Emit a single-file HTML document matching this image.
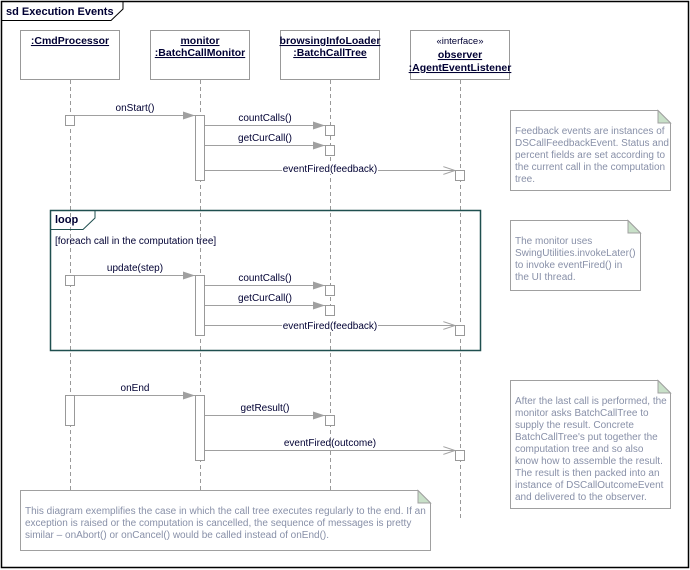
<!DOCTYPE html>
<html><head><meta charset="utf-8"><style>
html,body{margin:0;padding:0;background:#fff;}
svg{display:block;}
.h{font-family:"Liberation Sans",sans-serif;font-size:10.5px;font-weight:bold;fill:#000033;text-decoration:underline;}
.m{font-family:"Liberation Sans",sans-serif;font-size:10px;fill:#000033;}
.n{font-family:"Liberation Sans",sans-serif;font-size:10px;fill:#8890a8;}
</style></head><body>
<svg width="690" height="570" viewBox="0 0 690 570" xmlns="http://www.w3.org/2000/svg">
<defs>
<marker id="f" markerWidth="12" markerHeight="8" refX="12" refY="4" orient="auto" markerUnits="userSpaceOnUse"><path d="M0,0 L12,4 L0,8 z" fill="#a0a0a0"/></marker>
<marker id="o" markerWidth="12" markerHeight="8" refX="12" refY="4" orient="auto" markerUnits="userSpaceOnUse"><path d="M0,0 L12,4 L0,8" fill="none" stroke="#a0a0a0"/></marker>
</defs>
<rect x="1.5" y="1.5" width="687" height="566" fill="#fff" stroke="#000" stroke-width="1.5"/>
<path d="M1.5,20.5 H111 L123,9 V1.5" fill="none" stroke="#000"/>
<text x="6" y="15" class="m" style="font-weight:bold;font-size:11px">sd Execution Events</text>

<g stroke="#999" fill="#fff">
<rect x="20.5" y="30.5" width="99" height="49"/>
<rect x="150.5" y="30.5" width="99" height="49"/>
<rect x="280.5" y="30.5" width="99" height="49"/>
<rect x="410.5" y="30.5" width="99" height="49"/>
</g>
<text x="70" y="44" text-anchor="middle" class="h">:CmdProcessor</text>
<text x="200" y="44" text-anchor="middle" class="h">monitor</text>
<text x="200" y="56" text-anchor="middle" class="h">:BatchCallMonitor</text>
<text x="330" y="44" text-anchor="middle" class="h">browsingInfoLoader</text>
<text x="330" y="56" text-anchor="middle" class="h">:BatchCallTree</text>
<text x="460" y="44" text-anchor="middle" class="m" style="font-size:9.5px">«interface»</text>
<text x="460" y="58" text-anchor="middle" class="h">observer</text>
<text x="460" y="71" text-anchor="middle" class="h">:AgentEventListener</text>

<g stroke="#999" stroke-dasharray="4,3">
<line x1="70.5" y1="80" x2="70.5" y2="490"/>
<line x1="200.5" y1="80" x2="200.5" y2="490"/>
<line x1="330.5" y1="80" x2="330.5" y2="490"/>
<line x1="460.5" y1="80" x2="460.5" y2="520"/>
</g>

<rect x="50.5" y="210.5" width="430" height="140" fill="none" stroke="#1f4f4f" stroke-width="1.5"/>
<path d="M50.5,229.5 H83 L95,218 V210.5" fill="none" stroke="#1f4f4f"/>
<text x="55" y="223" class="m" style="font-weight:bold;font-size:11px">loop</text>
<text x="55" y="244" class="m">[foreach call in the computation tree]</text>

<g stroke="#a0a0a0" fill="none">
<line x1="75" y1="115.5" x2="195" y2="115.5" marker-end="url(#f)"/>
<line x1="205" y1="125.5" x2="325" y2="125.5" marker-end="url(#f)"/>
<line x1="205" y1="145.5" x2="325" y2="145.5" marker-end="url(#f)"/>
<line x1="205" y1="170.5" x2="455" y2="170.5" marker-end="url(#o)"/>
<line x1="75" y1="275.5" x2="195" y2="275.5" marker-end="url(#f)"/>
<line x1="205" y1="285.5" x2="325" y2="285.5" marker-end="url(#f)"/>
<line x1="205" y1="305.5" x2="325" y2="305.5" marker-end="url(#f)"/>
<line x1="205" y1="325.5" x2="455" y2="325.5" marker-end="url(#o)"/>
<line x1="75" y1="395.5" x2="195" y2="395.5" marker-end="url(#f)"/>
<line x1="205" y1="415.5" x2="325" y2="415.5" marker-end="url(#f)"/>
<line x1="205" y1="450.5" x2="455" y2="450.5" marker-end="url(#o)"/>
</g>
<g stroke="#999" fill="#fff">
<rect x="65.5" y="115.5" width="9" height="10"/>
<rect x="195.5" y="115.5" width="9" height="65"/>
<rect x="325.5" y="125.5" width="9" height="10"/>
<rect x="325.5" y="145.5" width="9" height="10"/>
<rect x="455.5" y="170.5" width="9" height="10"/>
<rect x="65.5" y="275.5" width="9" height="10"/>
<rect x="195.5" y="275.5" width="9" height="60"/>
<rect x="325.5" y="285.5" width="9" height="10"/>
<rect x="325.5" y="305.5" width="9" height="10"/>
<rect x="455.5" y="325.5" width="9" height="10"/>
<rect x="65.5" y="395.5" width="9" height="30"/>
<rect x="195.5" y="395.5" width="9" height="65"/>
<rect x="325.5" y="415.5" width="9" height="10"/>
<rect x="455.5" y="450.5" width="9" height="10"/>
</g>
<g class="m" text-anchor="middle">
<text x="135" y="111">onStart()</text>
<text x="265" y="121">countCalls()</text>
<text x="265" y="141">getCurCall()</text>
<rect x="282" y="162" width="96" height="12" fill="#fff"/>
<text x="330" y="172">eventFired(feedback)</text>
<text x="135" y="271">update(step)</text>
<text x="265" y="281">countCalls()</text>
<text x="265" y="301">getCurCall()</text>
<rect x="282" y="318" width="96" height="12" fill="#fff"/>
<text x="330" y="329">eventFired(feedback)</text>
<text x="135" y="391">onEnd</text>
<text x="265" y="411">getResult()</text>
<text x="330" y="446">eventFired(outcome)</text>
</g>

<g stroke="#a0a0a0" fill="#fff">
<path d="M510.5,110.5 H658 L670.5,123 V190.5 H510.5 Z"/>
<path d="M510.5,220.5 H628 L640.5,233 V290.5 H510.5 Z"/>
<path d="M510.5,380.5 H658 L670.5,393 V508.5 H510.5 Z"/>
<path d="M20.5,490.5 H418 L430.5,503 V550.5 H20.5 Z"/>
</g>
<g fill="#c8e0c8" stroke="#a0a0a0">
<path d="M658,110.5 L670.5,123 H658 Z"/>
<path d="M628,220.5 L640.5,233 H628 Z"/>
<path d="M658,380.5 L670.5,393 H658 Z"/>
<path d="M418,490.5 L430.5,503 H418 Z"/>
</g>
<g class="n">
<text x="515" y="134">Feedback events are instances of</text>
<text x="515" y="146">DSCallFeedbackEvent.  Status and</text>
<text x="515" y="158">percent fields are set according to</text>
<text x="515" y="170">the current call in the computation</text>
<text x="515" y="182">tree.</text>
<text x="515" y="244">The monitor uses</text>
<text x="515" y="256">SwingUtilities.invokeLater()</text>
<text x="515" y="268">to invoke eventFired() in</text>
<text x="515" y="280">the UI thread.</text>
<text x="515" y="404">After the last call is performed, the</text>
<text x="515" y="416">monitor asks BatchCallTree to</text>
<text x="515" y="428">supply the result.  Concrete</text>
<text x="515" y="440">BatchCallTree's put together the</text>
<text x="515" y="452">computation tree and so also</text>
<text x="515" y="464">know how to assemble the result.</text>
<text x="515" y="476">The result is then packed into an</text>
<text x="515" y="488">instance of DSCallOutcomeEvent</text>
<text x="515" y="500">and delivered to the observer.</text>
<text x="25" y="514">This diagram exemplifies the case in which the call tree executes regularly to the end.  If an</text>
<text x="25" y="526">exception is raised or the computation is cancelled, the sequence of messages is pretty</text>
<text x="25" y="538">similar – onAbort() or onCancel() would be called instead of onEnd().</text>
</g>
</svg>
</body></html>
